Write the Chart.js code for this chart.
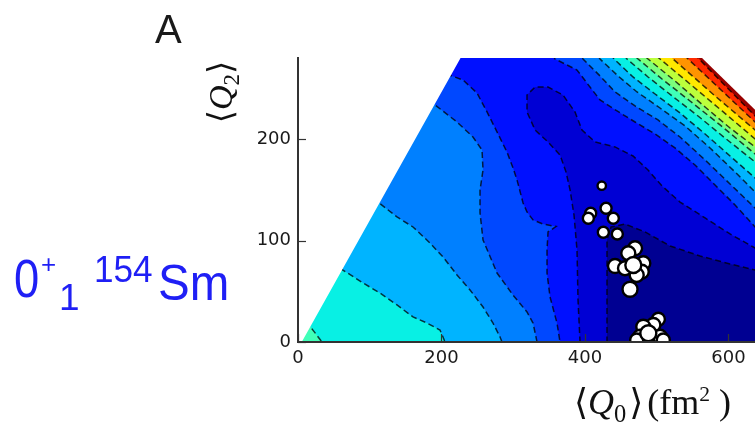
<!DOCTYPE html>
<html><head><meta charset="utf-8">
<script src="https://cdn.jsdelivr.net/npm/chart.js@4/dist/chart.umd.min.js"></script>
<style>
html,body{margin:0;padding:0;background:#fff;}
#wrap{position:relative;width:755px;height:424px;overflow:hidden;background:#fff;}
canvas{position:absolute;left:0;top:0;}
.t{position:absolute;white-space:nowrap;line-height:1;}
.br{font-family:'DejaVu Serif','DejaVu Sans';font-style:normal;}
.t sub{font-size:0.68em;vertical-align:-0.32em;line-height:0;font-style:normal;}
.t sup{font-size:0.6em;vertical-align:0.62em;line-height:0;}
.blue{color:#1f1ff5;font-family:'Liberation Sans';transform-origin:0 0;}
</style></head><body>
<div id="wrap">
<canvas id="c" width="755" height="424"></canvas>
<div class="t" style="left:155px;top:9px;font-size:40px;font-family:'Liberation Sans';color:#1a1a1a">A</div>
<div class="t" style="left:220px;top:92px;transform:translate(-50%,-50%) rotate(-90deg);font-size:34px;font-family:'Liberation Serif';color:#111"><span class="br">⟨</span><i>Q</i><sub>2</sub><span class="br">⟩</span></div>
<div class="t" style="left:574px;top:384px;font-size:36px;font-family:'Liberation Serif';color:#111"><span class="br">⟨</span><i>Q</i><sub>0</sub><span class="br" style="margin-left:3px">⟩</span><span style="margin-left:4px">(fm<sup>2</sup> )</span></div>
<div class="t blue" style="left:14px;top:251px;font-size:54px;transform:scaleX(0.84)">0</div>
<div class="t blue" style="left:41px;top:251px;font-size:26px">+</div>
<div class="t blue" style="left:59px;top:279px;font-size:37px">1</div>
<div class="t blue" style="left:94px;top:251px;font-size:37px;transform:scaleX(0.95)">154</div>
<div class="t blue" style="left:158px;top:258px;font-size:50px;transform:scaleX(0.95)">Sm</div>
</div>
<script>
// ---- tick labels ----
const xTickValues = [0, 200, 400, 600];
const yTickValues = [0, 100, 200];

// ---- scatter points: <Q0>, <Q2>, marker size ----
const pointQ0 = [423.4, 408.0, 404.7, 429.4, 439.5, 425.6, 445.1, 469.8, 460.4, 441.9, 455.8, 481.3, 479.1, 472.1, 467.4, 462.8, 502.3, 495.3, 481.3, 476.7, 504.6, 472.1, 509.2, 488.3];
const pointQ2 = [154.1, 126.9, 122.0, 131.8, 122.0, 108.2, 106.5, 92.4, 87.5, 74.9, 72.7, 77.6, 69.3, 66.1, 75.9, 52.0, 22.4, 16.8, 15.1, 5.2, 5.2, 2.0, 2.0, 8.6];
const pointSize = [4.2, 5.5, 5.5, 5.5, 5.5, 5.5, 5.5, 7, 7, 7, 7, 7, 7, 7, 8, 7.5, 6.5, 7, 7, 7, 7, 6.5, 6.5, 8];

// ---- contour band colours (low -> high) ----
const bandColors = ['#000092','#0000d4','#0010ff','#0048ff','#0080ff','#00b4ff','#08f0e4','#40ffb8','#7cff7c','#bcff3c','#ffe800','#ff9400','#ff2a00','#990000'];

// ---- sub-level regions (Q0, Q2) bounded by the contour lines ----
const band0 = [[430.7,-9.9],[430.7,0],[430.7,51.3],[430.7,100.6],[436.3,113.4],[455.8,116.3],[483.7,108.5],[518.6,94.7],[560.4,84.8],[602.2,76.9],[637.1,71.0],[685.8,59.2],[690,-20],[430.7,-20]];
const band1 = [[393.1,-9.9],[393.1,0],[390.3,41.4],[388.9,90.7],[384.7,125.2],[379.2,149.9],[373.6,167.6],[365.2,184.4],[348.5,197.2],[330.4,209.0],[319.2,226.8],[319.2,243.5],[330.4,251.4],[348.5,251.4],[369.4,243.5],[386.1,226.8],[395.9,209.0],[414.0,197.2],[441.9,192.3],[467.0,183.4],[487.9,169.6],[507.4,153.8],[532.5,138.0],[567.4,122.3],[602.2,106.5],[637.1,92.7],[685.8,75.9],[690,-20],[393.1,-20]];
const band2 = [[184.0,268.2],[-20,268.2],[-20,300],[344.3,297.8],[358.3,279.0],[388.9,268.2],[407.0,251.4],[421.0,238.6],[444.7,227.8],[469.8,216.9],[497.7,205.1],[525.5,191.3],[553.4,174.5],[581.3,154.8],[609.2,135.1],[637.1,113.4],[685.8,80.9],[690,-20],[366.6,-20],[366.6,-9.9],[365.2,0],[361.0,18.7],[351.3,44.4],[347.1,68.0],[347.1,90.7],[348.5,108.5],[359.7,113.9],[341.5,116.3],[327.6,120.3],[319.2,128.2],[313.7,137.1],[305.3,159.7],[299.7,171.6],[291.3,187.3],[277.4,207.1],[263.5,226.8],[249.5,245.5],[230.0,258.3],[214.7,262.3]];
const band3 = [[163.1,246.5],[-20,246.5],[-20,300],[379.2,297.8],[397.3,279.0],[421.0,262.3],[441.9,246.5],[469.8,232.7],[501.8,218.9],[532.5,202.1],[567.4,179.5],[602.2,155.8],[637.1,132.1],[685.8,100.6],[690,-20],[334.6,-20],[334.6,-9.9],[333.2,0],[327.6,18.7],[319.2,29.6],[299.7,46.3],[277.4,68.0],[257.9,100.6],[253.7,127.2],[253.7,149.9],[257.9,169.6],[256.5,189.3],[243.9,202.1],[221.6,216.9],[191.0,233.7]];
const band4 = [[86.4,151.8],[-20,151.8],[-20,300],[404.3,297.8],[421.0,279.0],[446.1,262.3],[472.6,246.5],[504.6,230.7],[539.5,213.0],[574.3,191.3],[609.2,167.6],[637.1,147.9],[685.8,115.4],[690,-20],[285.8,-20],[285.8,-9.9],[284.4,0],[281.6,4.9],[271.8,18.7],[257.9,34.5],[239.8,51.3],[221.6,66.1],[202.1,83.8],[184.0,97.6],[160.3,113.4],[138.0,123.3],[111.5,138.0]];
const band5 = [[40.4,81.8],[-20,81.8],[-20,300],[421.0,297.8],[440.5,279.0],[467.0,261.3],[497.7,244.5],[532.5,225.8],[567.4,205.1],[602.2,183.4],[637.1,161.7],[685.8,133.1],[690,-20],[206.3,-20],[206.3,-9.9],[204.9,0],[202.1,4.9],[197.9,11.8],[179.8,18.7],[160.3,24.7],[138.0,36.5],[114.3,48.3],[90.6,58.2],[60.9,71.7]];
const band6 = [[15.3,16.8],[2.8,27.6],[-20,40],[-20,300],[437.7,297.8],[458.6,279.0],[487.9,261.3],[521.4,242.6],[557.6,222.8],[595.2,201.1],[637.1,177.5],[685.8,149.9],[690,-20],[44.6,-20],[44.6,-9.9],[33.5,0]];
const band7 = [[-20,-20],[-20,300],[446.1,297.8],[474.0,279.0],[507.4,259.3],[546.4,237.6],[588.3,214.0],[637.1,185.4],[685.8,157.8],[690,-20]];
const band8 = [[-20,-20],[-20,300],[458.6,297.8],[487.9,279.0],[525.5,257.3],[567.4,231.7],[602.2,211.0],[637.1,192.3],[685.8,165.6],[690,-20]];
const band9 = [[-20,-20],[-20,300],[473.1,297.8],[504.6,279.0],[546.4,254.4],[591.1,227.8],[637.1,200.2],[685.8,171.1],[690,-20]];
const band10 = [[-20,-20],[-20,300],[492.1,297.8],[522.8,279.0],[581.3,242.6],[637.1,209.0],[685.8,179.2],[690,-20]];
const band11 = [[-20,-20],[-20,300],[518.3,297.8],[543.7,279.0],[590.4,248.0],[637.1,216.9],[685.8,184.5],[690,-20]];
const band12 = [[-20,-20],[-20,300],[532.9,297.8],[559.0,279.0],[598.0,250.9],[637.1,222.8],[685.8,187.7],[690,-20]];
const band13 = [[-20,-20],[-20,300],[690,300],[690,-20]];

// ---- outside of the allowed (Q0,Q2) domain ----
const maskLeft = [[-30,-20],[-10.6,-20],[242.4,300],[-30,300]];
const maskRight = [[534.3,300],[690,192.2],[690,300]];

const bands = [band0,band1,band2,band3,band4,band5,band6,band7,band8,band9,band10,band11,band12,band13];

function closed(poly){
  const pts = poly.map(p => ({x: p[0], y: p[1]}));
  pts.push({x: poly[0][0], y: poly[0][1]});
  return pts;
}

const datasets = [];
datasets.push({
  type: 'scatter',
  data: pointQ0.map((x, i) => ({x: x, y: pointQ2[i]})),
  pointRadius: pointSize,
  pointBackgroundColor: '#ffffff',
  pointBorderColor: '#000000',
  pointBorderWidth: 2.4,
  order: 0,
  clip: 0
});
[maskLeft, maskRight].forEach(m => datasets.push({
  type: 'line', data: closed(m), fill: 'shape', backgroundColor: '#ffffff',
  borderWidth: 0, borderColor: 'rgba(0,0,0,0)', pointRadius: 0, tension: 0, order: 1
}));
bands.forEach((b, i) => {
  const last = i === bands.length - 1;
  datasets.push({
    type: 'line', data: closed(b), fill: 'shape', backgroundColor: bandColors[i],
    borderColor: last ? 'rgba(0,0,0,0)' : 'rgba(0,0,0,0.75)',
    borderWidth: last ? 0 : 1.5, borderDash: [6, 3.5],
    pointRadius: 0, tension: 0, order: 2 + i
  });
});

const inwardTicks = {
  id: 'inwardTicks',
  afterDraw(chart) {
    const {ctx, chartArea, scales} = chart;
    ctx.save();
    ctx.strokeStyle = '#333';
    ctx.lineWidth = 1.2;
    xTickValues.forEach(v => {
      const px = Math.round(scales.x.getPixelForValue(v)) + 0.5;
      ctx.beginPath(); ctx.moveTo(px, chartArea.bottom); ctx.lineTo(px, chartArea.bottom - 8); ctx.stroke();
    });
    yTickValues.forEach(v => {
      const py = Math.round(scales.y.getPixelForValue(v)) + 0.5;
      ctx.beginPath(); ctx.moveTo(chartArea.left, py); ctx.lineTo(chartArea.left + 8, py); ctx.stroke();
    });
    ctx.restore();
  }
};

Chart.defaults.font.family = 'DejaVu Sans';
new Chart(document.getElementById('c'), {
  type: 'line',
  data: {datasets: datasets},
  options: {
    responsive: false,
    devicePixelRatio: 1,
    animation: false,
    events: [],
    layout: {autoPadding: false, padding: {left: 258, right: 0, top: 58, bottom: 52}},
    plugins: {legend: {display: false}, tooltip: {enabled: false}},
    scales: {
      x: {
        type: 'linear', min: 0, max: 637,
        afterBuildTicks: s => { s.ticks = xTickValues.map(v => ({value: v})); },
        ticks: {color: '#1a1a1a', font: {size: 18}, padding: 6, maxRotation: 0, autoSkip: false, includeBounds: false},
        grid: {display: true, drawOnChartArea: false, drawTicks: false},
        border: {display: true, color: '#333', width: 2, z: 1},
        afterFit: s => { s.height = 30; }
      },
      y: {
        type: 'linear', min: 0, max: 280,
        afterBuildTicks: s => { s.ticks = yTickValues.map(v => ({value: v})); },
        ticks: {color: '#1a1a1a', font: {size: 18}, padding: 7, includeBounds: false},
        grid: {display: true, drawOnChartArea: false, drawTicks: false},
        border: {display: true, color: '#333', width: 2, z: 1},
        afterFit: s => { s.width = 40; }
      }
    }
  },
  plugins: [inwardTicks]
});
</script>
</body></html>
